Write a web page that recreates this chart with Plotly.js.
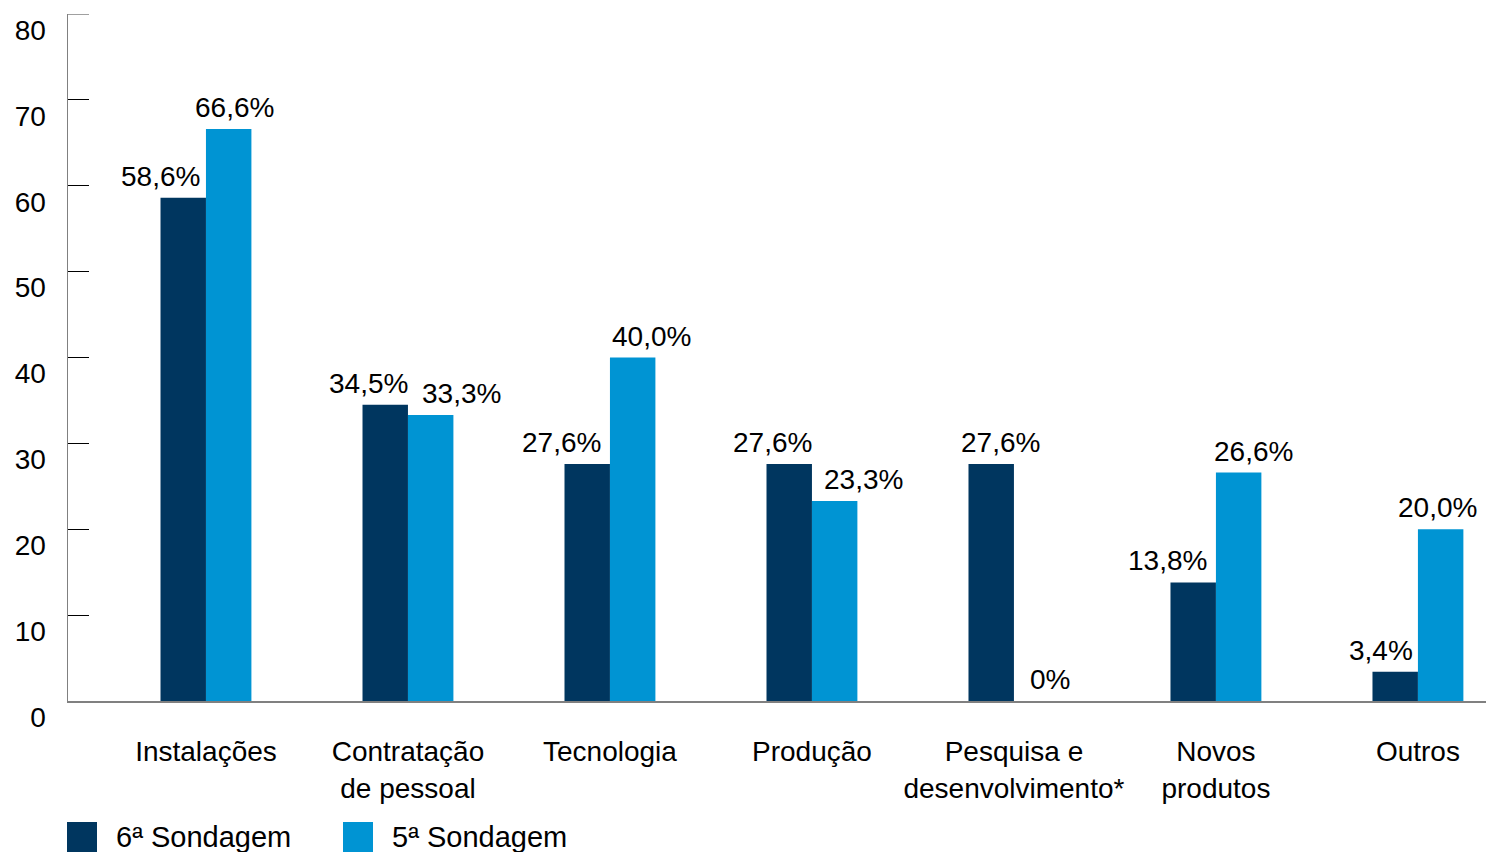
<!DOCTYPE html>
<html>
<head>
<meta charset="utf-8">
<script src="https://cdn.plot.ly/plotly-3.0.1.min.js"></script>
<style>html,body{margin:0;padding:0;background:#fff;}#chart{width:1486px;height:852px;}</style>
</head>
<body>
<div id="chart"></div>
<script>
// ---- data ----
const categories = ["Instalações", "Contratação<br>de pessoal", "Tecnologia", "Produção", "Pesquisa e<br>desenvolvimento*", "Novos<br>produtos", "Outros"];
const series6 = [58.6, 34.5, 27.6, 27.6, 27.6, 13.8, 3.4];
const series5 = [66.6, 33.3, 40.0, 23.3, 0, 26.6, 20.0];
const labels6 = ["58,6%", "34,5%", "27,6%", "27,6%", "27,6%", "13,8%", "3,4%"];
const labels5 = ["66,6%", "33,3%", "40,0%", "23,3%", "0%", "26,6%", "20,0%"];
const seriesNames = ["6ª Sondagem", "5ª Sondagem"];
const yTicks = [0, 10, 20, 30, 40, 50, 60, 70, 80];
const yMax = 80;

// ---- style ----
const colors = ["#00365f", "#0094d3"];
const FONT = "Liberation Sans, Arial, sans-serif";
const FS = 28;
const W = 1486, H = 852, ML = 68, MT = 14, MB = 151, MR = 0;
const shift6 = [-23, -17, -26, -17, 9, -26, -14];
const shift5 = [6, 31, 19, 29, 13, 15, -3];

const traces = [
  {type: "bar", x: categories, y: series6, name: seriesNames[0], marker: {color: colors[0]}, hoverinfo: "none"},
  {type: "bar", x: categories, y: series5, name: seriesNames[1], marker: {color: colors[1]}, hoverinfo: "none"}
];

const annotations = [];
categories.forEach((c, i) => {
  annotations.push({x: c, y: series6[i], xref: "x", yref: "y", text: labels6[i], showarrow: false,
    xshift: -0.1125 * 202 + shift6[i], yanchor: "bottom", yshift: 4, font: {family: FONT, size: FS, color: "#000"}});
  annotations.push({x: c, y: series5[i], xref: "x", yref: "y", text: labels5[i], showarrow: false,
    xshift: 0.1125 * 202 + shift5[i], yanchor: "bottom", yshift: 4, font: {family: FONT, size: FS, color: "#000"}});
});

const pw = W - ML - MR, ph = H - MT - MB;
const px = v => (v - ML) / pw;
const py = v => (H - MB - v) / ph;
const shapes = [
  // top tick of the y axis (edge tick is dropped by Plotly)
  {type: "line", xref: "paper", yref: "y", x0: 0, x1: px(89), y0: yMax, y1: yMax, line: {color: "#808080", width: 1.5}}
];
const legX = [67, 343];
seriesNames.forEach((n, k) => {
  shapes.push({type: "rect", xref: "paper", yref: "paper", x0: px(legX[k]), x1: px(legX[k] + 30), y0: py(852), y1: py(822),
    fillcolor: colors[k], line: {width: 0}});
  annotations.push({xref: "paper", yref: "paper", x: px(legX[k] + 47), y: py(837), xanchor: "left", yanchor: "middle",
    text: n, showarrow: false, font: {family: FONT, size: 29, color: "#000"}});
});

const layout = {
  width: W, height: H,
  margin: {l: ML, r: MR, t: MT, b: MB, pad: 0},
  paper_bgcolor: "#fff", plot_bgcolor: "#fff",
  showlegend: false,
  barmode: "group", bargap: 0.55, bargroupgap: 0,
  font: {family: FONT, size: FS, color: "#000"},
  xaxis: {type: "category", range: [-0.683, 6.337], showgrid: false, zeroline: false,
    showline: true, linecolor: "#808080", linewidth: 1.5, ticks: "", ticklabelstandoff: 25,
    tickfont: {family: FONT, size: FS, color: "#000"}},
  yaxis: {range: [0, yMax], tickvals: yTicks, showgrid: false, zeroline: false,
    showline: true, linecolor: "#808080", linewidth: 1.5, ticks: "inside", ticklen: 21, tickcolor: "#000", tickwidth: 1,
    ticklabelshift: 16, ticklabelstandoff: 15, ticklabeloverflow: "allow",
    tickfont: {family: FONT, size: FS, color: "#000"}},
  annotations: annotations,
  shapes: shapes
};

Plotly.newPlot("chart", traces, layout, {staticPlot: true, displayModeBar: false});
</script>
</body>
</html>
